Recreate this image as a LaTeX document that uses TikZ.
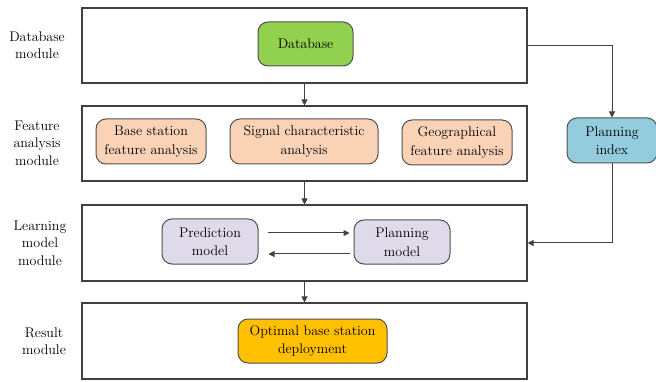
\documentclass[tikz,border=0pt]{standalone}
\usepackage{fontspec}
\usetikzlibrary{arrows.meta,calc}

\definecolor{frameline}{HTML}{404040}
\definecolor{nodeline}{HTML}{505050}
\definecolor{dbgreen}{HTML}{92D050}
\definecolor{peach}{HTML}{FAD3B7}
\definecolor{skyblue}{HTML}{93CDDD}
\definecolor{lavender}{HTML}{DEDAE9}
\definecolor{amber}{HTML}{FFC000}

\tikzset{
  module/.style={draw=frameline, line width=1.1pt, minimum width=445pt, minimum height=75pt, inner sep=0pt},
  unit/.style={draw=nodeline, line width=1pt, rounded corners=10pt, align=center, inner sep=0pt,
               minimum height=45pt, font=\fontsize{14}{18.5}\selectfont},
  sidelabel/.style={align=center, font=\fontsize{14}{17.5}\selectfont},
  link/.style={draw=frameline, line width=1pt, -{Triangle[length=6pt,width=6pt]}},
}

\begin{document}
\begin{tikzpicture}[x=1pt,y=-1pt]
  \useasboundingbox (0,0) rectangle (656,382);

  % module frames
  \node[module] (m1) at (304.5,45.5) {};
  \node[module] (m2) at (304.5,143.5) {};
  \node[module, minimum height=76pt] (m3) at (304.5,243) {};
  \node[module, minimum height=76pt] (m4) at (304.5,341) {};

  % module names
  \node[sidelabel] (l1) at (37,45) {Database\\module};
  \node[sidelabel] (l2) at (37,143) {Feature\\analysis\\module};
  \node[sidelabel] (l3) at (40,243) {Learning\\model\\module};
  \node[sidelabel] (l4) at (44,341) {Result\\module};

  % processing units
  \node[unit, fill=dbgreen, minimum width=95pt, minimum height=44pt] (db) at (305.5,44) {Database};
  \node[unit, fill=peach, minimum width=110pt] (bs) at (151,141.5) {Base station\\feature analysis};
  \node[unit, fill=peach, minimum width=148pt] (sc) at (304,141.5) {Signal characteristic\\analysis};
  \node[unit, fill=peach, minimum width=110pt] (geo) at (457,142.5) {Geographical\\feature analysis};
  \node[unit, fill=skyblue, minimum width=90pt] (pi) at (612,140.5) {Planning\\index};
  \node[unit, fill=lavender, minimum width=96pt] (pm) at (210,241.5) {Prediction\\model};
  \node[unit, fill=lavender, minimum width=96pt, minimum height=44pt] (pl) at (402,242) {Planning\\model};
  \node[unit, fill=amber, minimum width=149pt, minimum height=44pt] (opt) at (312.5,341) {Optimal base station\\deployment};

  % flow between modules
  \draw[link] (m1) -- (m2);
  \draw[link] (m2) -- (m3);
  \draw[link] (m3) -- (m4);

  % planning index loop
  \draw[link] (m1.east) -| (pi.north);
  \draw[link] (pi.south) |- (m3.east);

  % exchange between the two models
  \draw[link] ($(pm.east)+(9,-8.5)$) -- ($(pl.west)+(-4,-9)$);
  \draw[link] ($(pl.west)+(-4,12)$) -- ($(pm.east)+(10,12.5)$);
\end{tikzpicture}
\end{document}
